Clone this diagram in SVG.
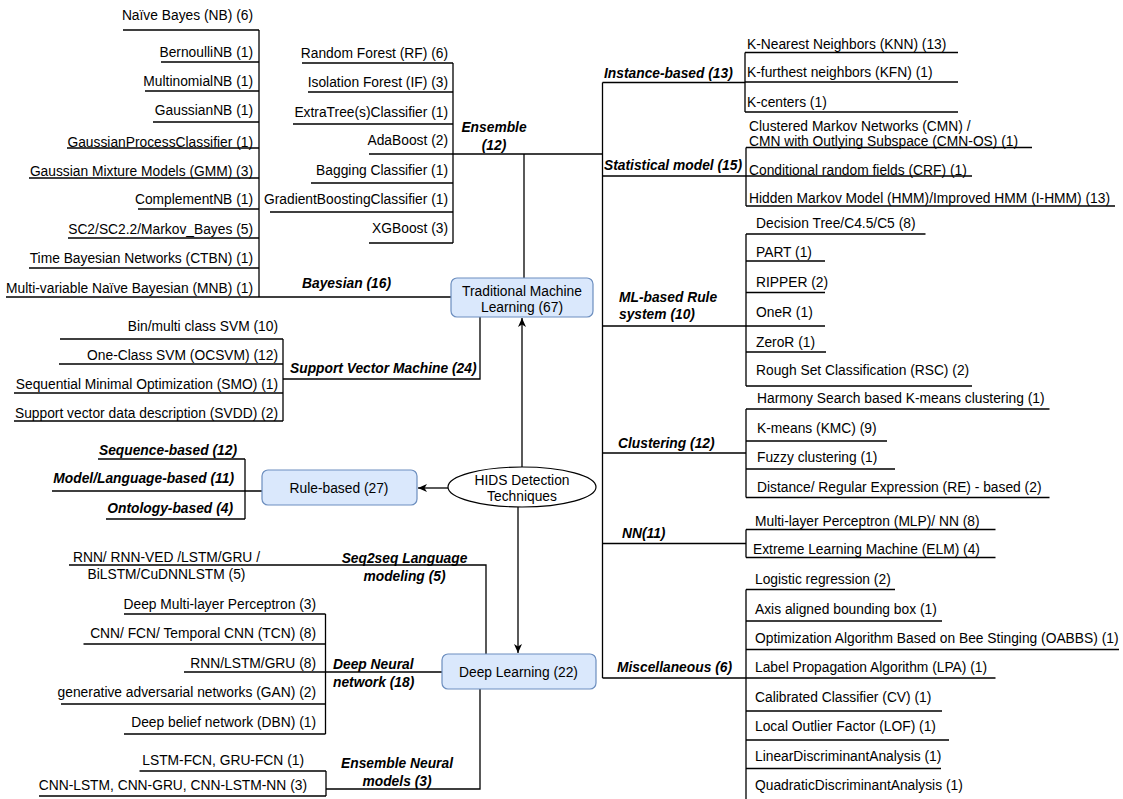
<svg xmlns="http://www.w3.org/2000/svg" width="1123" height="799" viewBox="0 0 1123 799">
<defs>
<style>
text{font-family:"Liberation Sans",Arial,Helvetica,sans-serif;font-size:13.8px;fill:#000}
.e{text-anchor:end}
.m{text-anchor:middle}
.b{font-weight:bold;font-style:italic}
.ln{stroke:#000;stroke-width:1.3;fill:none}
.box{fill:#dae8fc;stroke:#6c8ebf;stroke-width:1.2}
</style>
<marker id="arr" markerUnits="userSpaceOnUse" markerWidth="10" markerHeight="9" refX="9" refY="4" orient="auto">
<path d="M0,0 L9,4 L0,8 L2.5,4 z" fill="#000"/>
</marker>
</defs>
<rect width="1123" height="799" fill="#fff"/>

<g id="connectors" class="ln">
<path d="M259,30 V297"/>
<path d="M123,30 H259 M161,62 H259 M145,91 H259 M153,122 H259 M67,148 H259 M29,178 H259 M138,209 H259 M68,238 H259 M29,268 H259 M6,297 H451"/>
<path d="M453,63 V243"/>
<path d="M302,63 H453 M308,92 H453 M293,124 H453 M369,154 H602.5 M311,183 H453 M270,212 H453 M369,243 H453"/>
<path d="M524,154 V278"/>
<path d="M283,339 V421"/>
<path d="M60,339 H283 M59,364 H283 M14,393 H283 M14,421 H283"/>
<path d="M283,379 H480 V317"/>
<path d="M245,459 V519"/>
<path d="M98,459 H245 M52,491 H262 M106,519 H245"/>
<path d="M522,467 V318" marker-end="url(#arr)"/>
<path d="M448,488 H418" marker-end="url(#arr)"/>
<path d="M518,507 V653" marker-end="url(#arr)"/>
<path d="M69,565 H486 V654"/>
<path d="M325.5,614 V734"/>
<path d="M124,614 H325.5 M83.5,644 H325.5 M184,672 H442 M61,704 H325.5 M124,734 H325.5"/>
<path d="M326,771 V796"/>
<path d="M139.5,771 H326 M39,796 H326 M326,789 H480 V689"/>
<path d="M602.5,82.5 V678"/>
<path d="M602.5,82.5 H745 M745,52.5 V112 M745,52.5 H958 M745,82 H958 M745,112 H958"/>
<path d="M602.5,176 H746 M746,147.5 V206 M746,147.5 H1032 M746,176 H972 M746,206 H1115"/>
<path d="M602.5,326 H746 M746,234 V386 M746,234 H925.5 M746,261 H825 M746,292.5 H825 M746,326 H825 M746,352 H826 M746,386 H972"/>
<path d="M602.5,453 H746 M746,409 V497.5 M746,409 H1049.5 M746,441 H887 M746,469 H895 M746,497.5 H1049.5"/>
<path d="M602.5,543.5 H746 M746,529.5 V557.5 M746,529.5 H995.5 M746,557.5 H995.5"/>
<path d="M602.5,678 H746 M746,589.5 V799 M746,589.5 H895 M746,621 H942 M746,649.5 H1119 M746,678 H995.5 M746,711 H942 M746,740 H949 M746,768.5 H941"/>
</g>

<g id="node-tml">
<rect class="box" x="451" y="278" width="142" height="39" rx="6"/>
<text class="m" x="522" y="296">Traditional Machine</text>
<text class="m" x="522" y="312">Learning (67)</text>
</g>
<g id="node-rule">
<rect class="box" x="262" y="470" width="155" height="35" rx="6"/>
<text class="m" x="339" y="493">Rule-based (27)</text>
</g>
<g id="node-hids">
<ellipse cx="522" cy="487" rx="74" ry="20" fill="#fff" stroke="#000" stroke-width="1.2"/>
<text class="m" x="522" y="485">HIDS Detection</text>
<text class="m" x="522" y="501">Techniques</text>
</g>
<g id="node-dl">
<rect class="box" x="442" y="654" width="154" height="35" rx="6"/>
<text class="m" x="518.5" y="677">Deep Learning (22)</text>
</g>

<g id="branch-bayesian">
<text class="m b" x="346.5" y="288">Bayesian (16)</text>
<text class="e" x="253" y="20">Naïve Bayes (NB) (6)</text>
<text class="e" x="253" y="57">BernoulliNB (1)</text>
<text class="e" x="253" y="86">MultinomialNB (1)</text>
<text class="e" x="253" y="115">GaussianNB (1)</text>
<text class="e" x="253" y="147">GaussianProcessClassifier (1)</text>
<text class="e" x="253" y="176">Gaussian Mixture Models (GMM) (3)</text>
<text class="e" x="253" y="204">ComplementNB (1)</text>
<text class="e" x="253" y="234">SC2/SC2.2/Markov_Bayes (5)</text>
<text class="e" x="253" y="263">Time Bayesian Networks (CTBN) (1)</text>
<text class="e" x="253" y="293">Multi-variable Naïve Bayesian (MNB) (1)</text>
</g>

<g id="branch-ensemble">
<text class="m b" x="494" y="132">Ensemble</text>
<text class="m b" x="494" y="150">(12)</text>
<text class="e" x="448" y="58">Random Forest (RF) (6)</text>
<text class="e" x="448" y="87">Isolation Forest (IF) (3)</text>
<text class="e" x="448" y="117">ExtraTree(s)Classifier (1)</text>
<text class="e" x="448" y="145">AdaBoost (2)</text>
<text class="e" x="448" y="175">Bagging Classifier (1)</text>
<text class="e" x="448" y="204">GradientBoostingClassifier (1)</text>
<text class="e" x="448" y="233">XGBoost (3)</text>
</g>

<g id="branch-svm">
<text class="b" x="290" y="373">Support Vector Machine (24)</text>
<text class="e" x="278" y="331">Bin/multi class SVM (10)</text>
<text class="e" x="278" y="360">One-Class SVM (OCSVM) (12)</text>
<text class="e" x="278" y="389">Sequential Minimal Optimization (SMO) (1)</text>
<text class="e" x="278" y="418">Support vector data description (SVDD) (2)</text>
</g>

<g id="branch-rule">
<text class="e b" x="237" y="455">Sequence-based (12)</text>
<text class="e b" x="234" y="483">Model/Language-based (11)</text>
<text class="e b" x="233" y="513">Ontology-based (4)</text>
</g>

<g id="branch-seq2seq">
<text class="m" x="166.5" y="562">RNN/ RNN-VED /LSTM/GRU /</text>
<text class="m" x="166.5" y="579">BiLSTM/CuDNNLSTM (5)</text>
<text class="m b" x="404.5" y="563">Seq2seq Language</text>
<text class="m b" x="404.5" y="581">modeling (5)</text>
</g>

<g id="branch-dnn">
<text class="b" x="333" y="669">Deep Neural</text>
<text class="b" x="333" y="687">network (18)</text>
<text class="e" x="316" y="609">Deep Multi-layer Perceptron (3)</text>
<text class="e" x="316" y="638">CNN/ FCN/ Temporal CNN (TCN) (8)</text>
<text class="e" x="316" y="668">RNN/LSTM/GRU (8)</text>
<text class="e" x="316" y="697">generative adversarial networks (GAN) (2)</text>
<text class="e" x="316" y="727">Deep belief network (DBN) (1)</text>
</g>

<g id="branch-ensemble-nn">
<text class="m b" x="397" y="768">Ensemble Neural</text>
<text class="m b" x="397" y="786">models (3)</text>
<text class="e" x="304" y="765">LSTM-FCN, GRU-FCN (1)</text>
<text class="e" x="307" y="790">CNN-LSTM, CNN-GRU, CNN-LSTM-NN (3)</text>
</g>

<g id="branch-instance">
<text class="b" x="604" y="78">Instance-based (13)</text>
<text x="747" y="49">K-Nearest Neighbors (KNN) (13)</text>
<text x="747" y="77">K-furthest neighbors (KFN) (1)</text>
<text x="747" y="107">K-centers (1)</text>
</g>

<g id="branch-statistical">
<text class="b" x="604" y="170">Statistical model (15)</text>
<text x="749" y="131">Clustered Markov Networks (CMN) /</text>
<text x="749" y="146">CMN with Outlying Subspace (CMN-OS) (1)</text>
<text x="749" y="175">Conditional random fields (CRF) (1)</text>
<text x="749" y="203">Hidden Markov Model (HMM)/Improved HMM (I-HMM) (13)</text>
</g>

<g id="branch-mlrule">
<text class="b" x="619" y="302">ML-based Rule</text>
<text class="b" x="619" y="319">system (10)</text>
<text x="756" y="228">Decision Tree/C4.5/C5 (8)</text>
<text x="756" y="257">PART (1)</text>
<text x="756" y="287">RIPPER (2)</text>
<text x="756" y="317">OneR (1)</text>
<text x="756" y="347">ZeroR (1)</text>
<text x="756" y="375">Rough Set Classification (RSC) (2)</text>
</g>

<g id="branch-clustering">
<text class="b" x="618" y="448">Clustering (12)</text>
<text x="757" y="403">Harmony Search based K-means clustering (1)</text>
<text x="757" y="433">K-means (KMC) (9)</text>
<text x="757" y="462">Fuzzy clustering (1)</text>
<text x="757" y="492">Distance/ Regular Expression (RE) - based (2)</text>
</g>

<g id="branch-nn">
<text class="b" x="622" y="538">NN(11)</text>
<text x="755" y="526">Multi-layer Perceptron (MLP)/ NN (8)</text>
<text x="753" y="554">Extreme Learning Machine (ELM) (4)</text>
</g>

<g id="branch-misc">
<text class="b" x="617" y="672">Miscellaneous (6)</text>
<text x="755" y="584">Logistic regression (2)</text>
<text x="755" y="614">Axis aligned bounding box (1)</text>
<text x="755" y="643">Optimization Algorithm Based on Bee Stinging (OABBS) (1)</text>
<text x="755" y="672">Label Propagation Algorithm (LPA) (1)</text>
<text x="755" y="702">Calibrated Classifier (CV) (1)</text>
<text x="755" y="731">Local Outlier Factor (LOF) (1)</text>
<text x="755" y="761">LinearDiscriminantAnalysis (1)</text>
<text x="755" y="790">QuadraticDiscriminantAnalysis (1)</text>
</g>
</svg>
